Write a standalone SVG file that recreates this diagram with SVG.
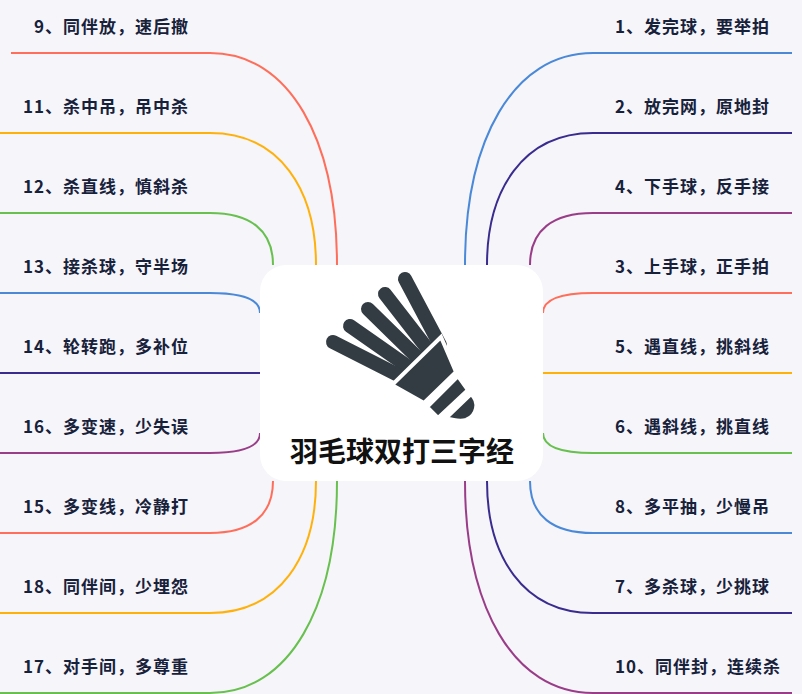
<svg xmlns="http://www.w3.org/2000/svg" width="802" height="694" viewBox="0 0 802 694">
<style>
.t{font-family:"Noto Sans CJK SC","Liberation Sans",sans-serif;font-weight:bold;font-size:17px;letter-spacing:1px;fill:#17213a}
.l{text-anchor:end}
.c path{fill:none;stroke-width:2}
.f{stroke:#323c42;stroke-width:14;stroke-linecap:round}
</style>
<rect width="802" height="694" fill="#f5f5fa"/>
<g id="connectors" class="c">
<path d="M11 53H210C290 53 337 140 337 265" stroke="#ff6e5a"/>
<path d="M0 133H210C280 133 316 190 316 265" stroke="#ffb10a"/>
<path d="M0 213H210C250 213 273 230 273 265" stroke="#68c04e"/>
<path d="M0 293H210C245 293 260 300 260 313" stroke="#4a88d8"/>
<path d="M0 373H260" stroke="#3a2b8e"/>
<path d="M0 453H210C245 453 260 446 260 433" stroke="#9a3d88"/>
<path d="M0 533H210C250 533 273 516 273 481" stroke="#ff6e5a"/>
<path d="M0 613H210C280 613 316 556 316 481" stroke="#ffb10a"/>
<path d="M0 693H210C290 693 337 606 337 481" stroke="#68c04e"/>
<path d="M792 53H593C513 53 465 140 465 265" stroke="#4a88d8"/>
<path d="M792 133H593C523 133 487 190 487 265" stroke="#3a2b8e"/>
<path d="M792 213H593C553 213 530 230 530 265" stroke="#9a3d88"/>
<path d="M792 293H593C558 293 543 300 543 313" stroke="#ff6e5a"/>
<path d="M792 373H543" stroke="#ffb10a"/>
<path d="M792 453H593C558 453 543 446 543 433" stroke="#68c04e"/>
<path d="M792 533H593C553 533 530 516 530 481" stroke="#4a88d8"/>
<path d="M792 613H593C523 613 487 556 487 481" stroke="#3a2b8e"/>
<path d="M792 693H593C513 693 465 606 465 481" stroke="#9a3d88"/>
</g>
<g id="center">
<rect x="260" y="265" width="283" height="216" rx="26" fill="#fff"/>
<g class="f">
<line x1="405" y1="279" x2="440" y2="345"/>
<line x1="385" y1="294" x2="430" y2="352"/>
<line x1="368" y1="309" x2="420" y2="360"/>
<line x1="350" y1="326" x2="410" y2="368"/>
<line x1="333" y1="342" x2="400" y2="376"/>
</g>
<polygon points="441,337 456,372 424,403 392,385" fill="#323c42" stroke="#fff" stroke-width="4"/>
<polygon points="458,376 468,390 438,418 427,407" fill="#323c42" stroke="#fff" stroke-width="4"/>
<path d="M471 394C480 402 477 416 466 420C460 422 452 420 446 418Z" fill="#323c42" stroke="#fff" stroke-width="4"/>
<text x="402" y="462" text-anchor="middle" style="font-family:'Noto Sans CJK SC',sans-serif;font-weight:bold;font-size:28px;fill:#111">羽毛球双打三字经</text>
</g>
<g id="n9"><text class="t l" x="189" y="33">9、同伴放，速后撤</text></g>
<g id="n11"><text class="t l" x="189" y="113">11、杀中吊，吊中杀</text></g>
<g id="n12"><text class="t l" x="189" y="193">12、杀直线，慎斜杀</text></g>
<g id="n13"><text class="t l" x="189" y="273">13、接杀球，守半场</text></g>
<g id="n14"><text class="t l" x="189" y="353">14、轮转跑，多补位</text></g>
<g id="n16"><text class="t l" x="189" y="433">16、多变速，少失误</text></g>
<g id="n15"><text class="t l" x="189" y="513">15、多变线，冷静打</text></g>
<g id="n18"><text class="t l" x="189" y="593">18、同伴间，少埋怨</text></g>
<g id="n17"><text class="t l" x="189" y="673">17、对手间，多尊重</text></g>
<g id="n1"><text class="t" x="615" y="33">1、发完球，要举拍</text></g>
<g id="n2"><text class="t" x="615" y="113">2、放完网，原地封</text></g>
<g id="n4"><text class="t" x="615" y="193">4、下手球，反手接</text></g>
<g id="n3"><text class="t" x="615" y="273">3、上手球，正手拍</text></g>
<g id="n5"><text class="t" x="615" y="353">5、遇直线，挑斜线</text></g>
<g id="n6"><text class="t" x="615" y="433">6、遇斜线，挑直线</text></g>
<g id="n8"><text class="t" x="615" y="513">8、多平抽，少慢吊</text></g>
<g id="n7"><text class="t" x="615" y="593">7、多杀球，少挑球</text></g>
<g id="n10"><text class="t" x="615" y="673">10、同伴封，连续杀</text></g>
</svg>
